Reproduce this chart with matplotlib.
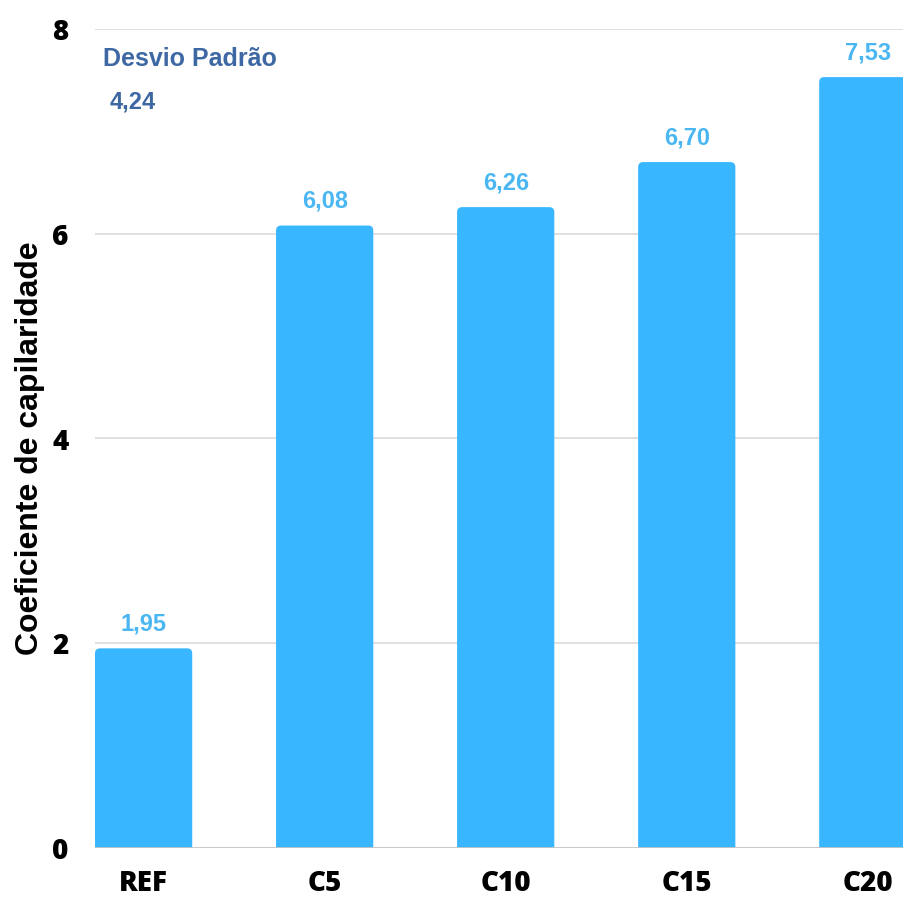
import matplotlib
matplotlib.use("Agg")
import matplotlib.pyplot as plt
from matplotlib.patches import FancyBboxPatch

categorias = ["REF", "C5", "C10", "C15", "C20"]
coeficientes = [1.95, 6.08, 6.26, 6.70, 7.53]
rotulos = ["1,95", "6,08", "6,26", "6,70", "7,53"]
yticks = [0, 2, 4, 6, 8]
desvio_padrao = "4,24"

cor_barra = "#38B6FF"
cor_rotulo = "#4AB6F2"
cor_desvio = "#3E68A3"
largura = 0.537

fig = plt.figure(figsize=(9.04, 8.97), dpi=100)
ax = fig.add_axes([95 / 904, 49 / 897, 809 / 904, 819 / 897])

x = list(range(len(categorias)))
ax.set_xlim(-largura / 2, 4.2)
ax.set_ylim(0, 8)

# aspecto em pixels para arredondar os cantos igualmente nos dois eixos
asp = (8 / 819) / ((4.2 + largura / 2) / 809)
raio = 5 * (4.2 + largura / 2) / 809
for xi, v, txt in zip(x, coeficientes, rotulos):
    barra = FancyBboxPatch((xi - largura / 2, -0.2), largura, v + 0.2,
                           boxstyle=f"round,pad=0,rounding_size={raio}",
                           mutation_aspect=asp, facecolor=cor_barra,
                           edgecolor="none", zorder=3)
    ax.add_patch(barra)
    ax.annotate(txt, (xi, v), xytext=(0, 13), textcoords="offset points",
                ha="center", va="baseline", color=cor_rotulo,
                fontsize=17, fontweight="bold", family="Liberation Sans",
                zorder=4)

# grade horizontal
for t in yticks[1:]:
    ax.axhline(t, color="#DADADA", lw=1.2, zorder=1)
ax.axhline(0, color="#C4C4C4", lw=2, zorder=4)

for s in ax.spines.values():
    s.set_visible(False)

ax.set_yticks(yticks)
ax.set_yticklabels([str(t) for t in yticks], fontsize=20, fontweight=800,
                   family=["Open Sans", "DejaVu Sans"])
ax.set_xticks(x)
ax.set_xticklabels(categorias, fontsize=20, fontweight=800,
                   family=["Open Sans", "DejaVu Sans"])
ax.tick_params(axis="y", length=0, pad=19)
ax.tick_params(axis="x", length=0, pad=15)

fig.text(30 / 904, 0.5, "Coeficiente de capilaridade", rotation=90,
         ha="center", va="center", fontsize=23, fontweight="bold",
         family="Liberation Sans")

ax.text(0.01, 7.71, "Desvio Padrão", transform=ax.get_yaxis_transform(),
        ha="left", va="center", color=cor_desvio, fontsize=18,
        fontweight="bold", family="Liberation Sans")
ax.text(0.018, 7.29, desvio_padrao, transform=ax.get_yaxis_transform(),
        ha="left", va="center", color=cor_desvio, fontsize=17,
        fontweight="bold", family="Liberation Sans")

fig.savefig("out.png", dpi=100, facecolor="white")
